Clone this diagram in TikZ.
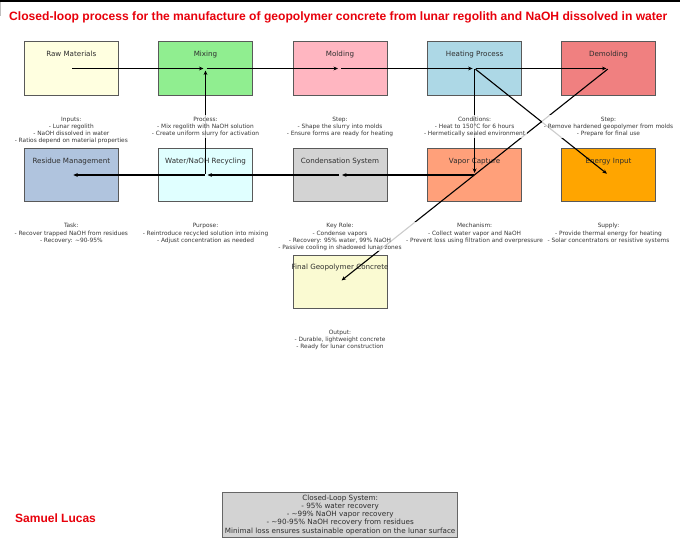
\documentclass[tikz,border=0pt]{standalone}
\usepackage{fontspec}
\newfontfamily\dejavu{DejaVu Sans}
\newfontfamily\libsans{Liberation Sans}
\usetikzlibrary{arrows.meta}
\definecolor{cRaw}{HTML}{FFFFE0}
\definecolor{cMix}{HTML}{90EE90}
\definecolor{cMold}{HTML}{FFB6C1}
\definecolor{cHeat}{HTML}{ADD8E6}
\definecolor{cDemold}{HTML}{F08080}
\definecolor{cResid}{HTML}{B0C4DE}
\definecolor{cRecyc}{HTML}{E0FFFF}
\definecolor{cCond}{HTML}{D3D3D3}
\definecolor{cVapor}{HTML}{FFA07A}
\definecolor{cEnergy}{HTML}{FFA500}
\definecolor{cFinal}{HTML}{FAFAD2}
\definecolor{cTitle}{HTML}{E8000B}
\begin{document}
\begin{tikzpicture}[x=1pt,y=-1pt,
  box/.style={draw=black!65, line width=0.8pt, minimum width=94pt, minimum height=53.5pt, inner sep=0pt},
  boxlabel/.style={font=\dejavu\fontsize{7.15}{8.5}\selectfont, text=black!82, anchor=mid, inner sep=0pt},
  note/.style={font=\dejavu\fontsize{5.85}{7.1}\selectfont, text=black!78, align=center, anchor=north, fill=white, fill opacity=0.8, text opacity=1, inner xsep=2pt, inner ysep=1pt},
  arr/.style={-{Stealth[length=4.5pt,width=3.8pt]}, line width=1.1pt, shorten >=2pt, shorten <=1pt},
  titlestyle/.style={font=\libsans\bfseries\fontsize{12.1}{14}\selectfont, text=cTitle, inner sep=0pt, anchor=base west}
]
\useasboundingbox (0,0) rectangle (680,553);
\fill[white] (0,0) rectangle (680,553);
\fill[black] (0,0) rectangle (680,2.3);
\fill[black!25] (0,2.3) rectangle (1.3,16);

% title
\node[titlestyle] (title) at (9,20.2) {Closed-loop process for the manufacture of geopolymer concrete from lunar regolith and NaOH dissolved in water};

% boxes row 1
\node[box, fill=cRaw]    (raw)    at (71.3,68.5) {};
\node[box, fill=cMix]    (mix)    at (205.5,68.5) {};
\node[box, fill=cMold]   (mold)   at (340,68.5) {};
\node[box, fill=cHeat]   (heat)   at (474.6,68.5) {};
\node[box, fill=cDemold] (demold) at (608.5,68.5) {};
% boxes row 2
\node[box, fill=cResid]  (resid)  at (71.3,175) {};
\node[box, fill=cRecyc]  (recyc)  at (205.5,175) {};
\node[box, fill=cCond]   (cond)   at (340,175) {};
\node[box, fill=cVapor]  (vapor)  at (474.6,175) {};
\node[box, fill=cEnergy] (energy) at (608.5,175) {};
% row 3
\node[box, fill=cFinal]  (final)  at (340,281.7) {};

% box labels
\node[boxlabel] (rawT)    at ([yshift=-13.2pt]raw.north)    {Raw Materials};
\node[boxlabel] (mixT)    at ([yshift=-13.2pt]mix.north)    {Mixing};
\node[boxlabel] (moldT)   at ([yshift=-13.2pt]mold.north)   {Molding};
\node[boxlabel] (heatT)   at ([yshift=-13.2pt]heat.north)   {Heating Process};
\node[boxlabel] (demoldT) at ([yshift=-13.2pt]demold.north) {Demolding};
\node[boxlabel] (residT)  at ([yshift=-13.2pt]resid.north)  {Residue Management};
\node[boxlabel] (recycT)  at ([yshift=-13.2pt]recyc.north)  {Water/NaOH Recycling};
\node[boxlabel] (condT)   at ([yshift=-13.2pt]cond.north)   {Condensation System};
\node[boxlabel] (vaporT)  at ([yshift=-13.2pt]vapor.north)  {Vapor Capture};
\node[boxlabel] (energyT) at ([yshift=-13.2pt]energy.north) {Energy Input};
\node[boxlabel] (finalT)  at ([yshift=-13.2pt]final.north)  {Final Geopolymer Concrete};

% arrows
\draw[arr] (raw.center) -- (mix.center);
\draw[arr] (mix.center) -- (mold.center);
\draw[arr] (mold.center) -- (heat.center);
\draw[arr] (heat.center) -- (demold.center);
\draw[arr] (heat.center) -- (vapor.center);
\draw[arr] (heat.center) -- (energy.center);
\draw[arr] (vapor.center) -- (cond.center);
\draw[arr] (cond.center) -- (recyc.center);
\draw[arr] (recyc.center) -- (resid.center);
\draw[arr] (recyc.center) -- (mix.center);
\draw[arr] (demold.center) -- (final.center);

% notes
\node[note] (rawN) at ([yshift=-19.6pt]raw.south) {\strut Inputs:\\- Lunar regolith\\- NaOH dissolved in water\\- Ratios depend on material properties};
\node[note] (mixN) at ([yshift=-19.6pt]mix.south) {\strut Process:\\- Mix regolith with NaOH solution\\- Create uniform slurry for activation};
\node[note] (moldN) at ([yshift=-19.6pt]mold.south) {\strut Step:\\- Shape the slurry into molds\\- Ensure forms are ready for heating};
\node[note] (heatN) at ([yshift=-19.6pt]heat.south) {\strut Conditions:\\- Heat to 150°C for 6 hours\\- Hermetically sealed environment};
\node[note] (demoldN) at ([yshift=-19.6pt]demold.south) {\strut Step:\\- Remove hardened geopolymer from molds\\- Prepare for final use};
\node[note] (residN) at ([yshift=-19.6pt]resid.south) {\strut Task:\\- Recover trapped NaOH from residues\\- Recovery: \textasciitilde90-95\%};
\node[note] (recycN) at ([yshift=-19.6pt]recyc.south) {\strut Purpose:\\- Reintroduce recycled solution into mixing\\- Adjust concentration as needed};
\node[note] (condN) at ([yshift=-19.6pt]cond.south) {\strut Key Role:\\- Condense vapors\\- Recovery: 95\% water, 99\% NaOH\\- Passive cooling in shadowed lunar zones};
\node[note] (vaporN) at ([yshift=-19.6pt]vapor.south) {\strut Mechanism:\\- Collect water vapor and NaOH\\- Prevent loss using filtration and overpressure};
\node[note] (energyN) at ([yshift=-19.6pt]energy.south) {\strut Supply:\\- Provide thermal energy for heating\\- Solar concentrators or resistive systems};
\node[note] (finalN) at ([yshift=-19.6pt]final.south) {\strut Output:\\- Durable, lightweight concrete\\- Ready for lunar construction};

% summary box
\node[draw=black!60, line width=0.8pt, fill=cCond, font=\dejavu\fontsize{7.2}{8.25}\selectfont, text=black!82, align=center, inner xsep=2.3pt, inner ysep=1.6pt] (summary) at (340.15,515)
  {\strut Closed-Loop System:\\- 95\% water recovery\\- \textasciitilde99\% NaOH vapor recovery\\- \textasciitilde90-95\% NaOH recovery from residues\\Minimal loss ensures sustainable operation on the lunar surface\strut};

% author
\node[titlestyle, font=\libsans\bfseries\fontsize{12}{14}\selectfont] (author) at (15,522.5) {Samuel Lucas};
\end{tikzpicture}
\end{document}
